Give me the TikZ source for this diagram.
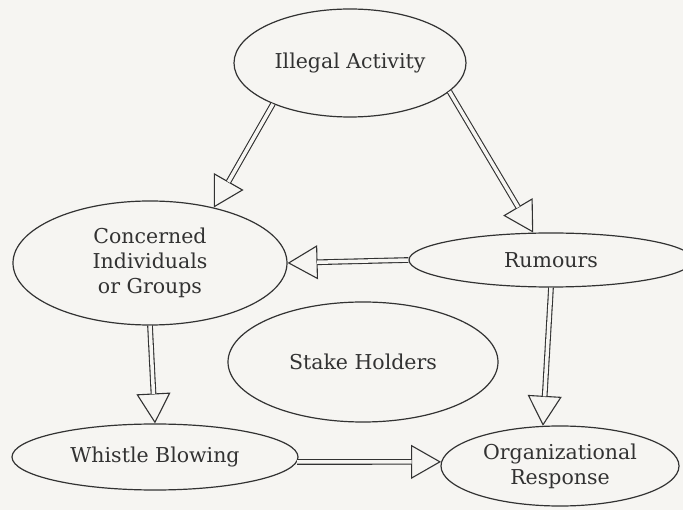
\documentclass[tikz,border=0pt]{standalone}
\usepackage{fontspec}
\setmainfont{DejaVu Serif}
\usetikzlibrary{shapes.geometric,arrows.meta}
\definecolor{paper}{RGB}{246,245,242}
\definecolor{ink}{RGB}{50,50,50}
\begin{document}
\begin{tikzpicture}[x=1pt, y=-1pt,
	blob/.style={ellipse, draw=ink, line width=1.2pt, inner sep=0pt,
		text=ink, align=center, font=\fontsize{20.5}{25}\selectfont},
	tip/.style={draw=ink, line width=1.1pt,
		-{Triangle[open, length=30pt, width=34pt]}},
	shaft/.style={draw=ink, line width=1.1pt, double=paper,
		double distance=3.5pt, shorten >=29.5pt}]
\fill[paper] (0,0) rectangle (683,510);
\useasboundingbox (0,0) rectangle (683,510);
\node[blob, minimum width=232pt, minimum height=108pt] (ia) at (350,63)
	{Illegal Activity};
\node[blob, minimum width=274pt, minimum height=124pt] (ci) at (150,263)
	{Concerned\\Individuals\\or Groups};
\node[blob, minimum width=284pt, minimum height=54pt] (rum) at (551,260)
	{Rumours};
\node[blob, minimum width=270pt, minimum height=120pt] (sh) at (363,362)
	{Stake Holders};
\node[blob, minimum width=286pt, minimum height=66pt] (wb) at (155,457)
	{Whistle Blowing};
\node[blob, minimum width=238pt, minimum height=80pt] (orgr) at (560,466)
	{Organizational\\Response};
\foreach \a/\b in {ia.208/ci.41, ia.344/rum.123, rum.west/ci.east,
		ci.south/wb.north, rum.south/orgr.113, wb.358/orgr.178} {
	\draw[tip] (\a) -- (\b);
	\draw[shaft] (\a) -- (\b);
}
\end{tikzpicture}
\end{document}
